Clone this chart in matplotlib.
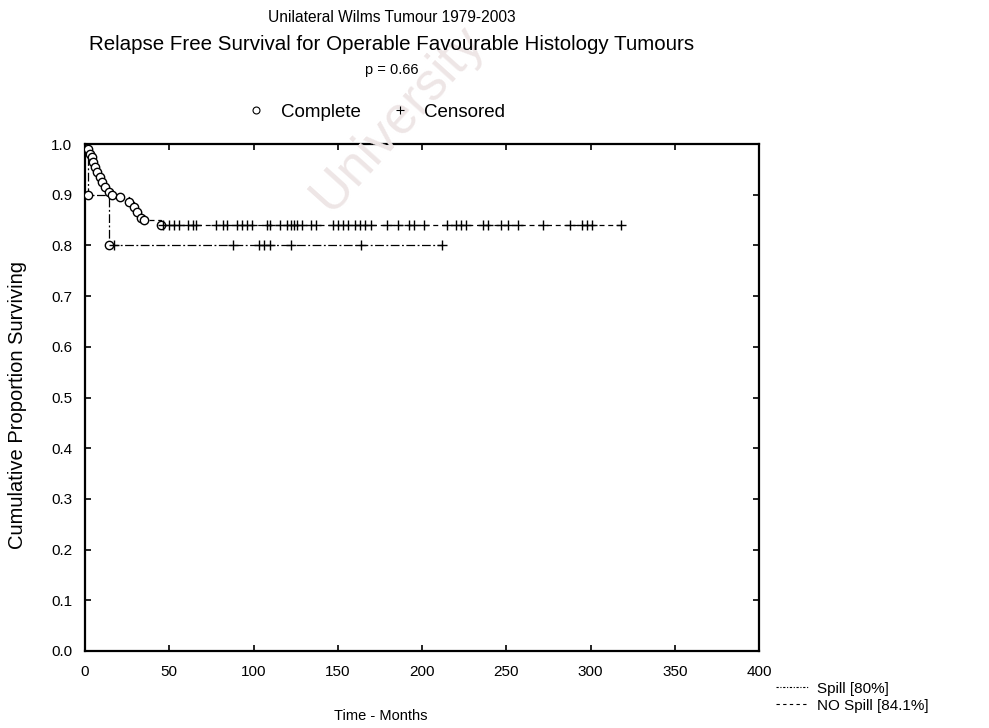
import matplotlib
matplotlib.use("Agg")
import matplotlib.pyplot as plt
from matplotlib.lines import Line2D

plt.rcParams['font.family'] = ['Liberation Sans', 'DejaVu Sans']

# ---- data ----
nospill_event_times = [2, 3, 4, 5, 6, 7, 9, 10, 12, 14, 16, 21, 26, 29, 31, 33, 35, 45]
nospill_event_surv = [0.99, 0.98, 0.975, 0.965, 0.955, 0.945, 0.935, 0.925, 0.915,
                      0.905, 0.90, 0.895, 0.885, 0.875, 0.865, 0.855, 0.85, 0.841]
nospill_censor_times = [46, 50, 53, 56, 61, 64, 66, 78, 82, 84, 90, 93, 96, 99, 108, 110,
                        116, 120, 122, 124, 126, 129, 134, 137, 147, 150, 153, 156, 160,
                        163, 166, 170, 179, 186, 192, 195, 201, 215, 220, 223, 226, 236,
                        239, 247, 251, 257, 272, 288, 295, 298, 301, 318]

spill_event_times = [2, 14]
spill_event_surv = [0.90, 0.80]
spill_censor_times = [17, 88, 103, 106, 110, 122, 164, 212]

x_ticks = [0, 50, 100, 150, 200, 250, 300, 350, 400]
y_ticks = [0.0, 0.1, 0.2, 0.3, 0.4, 0.5, 0.6, 0.7, 0.8, 0.9, 1.0]

title_lines = ["Unilateral Wilms Tumour 1979-2003",
               "Relapse Free Survival for Operable Favourable Histology Tumours",
               "p = 0.66"]
labels = ["Spill [80%]", "NO Spill [84.1%]"]


def level_at(t, times, surv):
    lv = 1.0
    for et, s in zip(times, surv):
        if et <= t:
            lv = s
    return lv


W, H = 989, 728
fig = plt.figure(figsize=(W / 100, H / 100), dpi=100)
ax = fig.add_axes([85 / W, 1 - 651 / H, (759 - 85) / W, (651 - 144) / H])

# watermark
fig.text(398 / W, 1 - 118 / H, "University", rotation=48, fontsize=38,
         color='#eee6e6', ha='center', va='center', zorder=0)

def draw_group(etimes, esurv, ctimes, ls):
    end = max(ctimes + etimes)
    xs = [0] + list(etimes) + [end]
    ys = [1.0] + list(esurv) + [esurv[-1]]
    ax.step(xs, ys, where='post', color='black', lw=0.9, linestyle=ls, zorder=2)
    ax.plot(etimes, esurv, linestyle='none', marker='o', markersize=6,
            markerfacecolor='white', markeredgecolor='black', markeredgewidth=1.0, zorder=3)
    cy = [level_at(t, etimes, esurv) for t in ctimes]
    ax.plot(ctimes, cy, linestyle='none', marker='+', markersize=7,
            color='black', markeredgewidth=1.0, zorder=3)

spill_ls = (0, (7, 2, 1.5, 2))
nospill_ls = (0, (4, 3))
draw_group(nospill_event_times, nospill_event_surv, nospill_censor_times, nospill_ls)
draw_group(spill_event_times, spill_event_surv, spill_censor_times, spill_ls)

ax.set_xlim(0, 400)
ax.set_ylim(0, 1.0)
ax.set_xticks(x_ticks)
ax.set_xticklabels([str(v) for v in x_ticks])
ax.set_yticks(y_ticks)
ax.set_yticklabels([f"{v:.1f}" for v in y_ticks])
ax.tick_params(direction='in', length=4, width=1.2, top=True, right=True,
               labelsize=11)
ax.tick_params(axis='x', pad=10)
ax.tick_params(axis='y', pad=9)
for s in ax.spines.values():
    s.set_linewidth(1.6)

fig.text(18 / W, 1 - 405 / H, "Cumulative Proportion Surviving", rotation=90,
         ha='center', va='center', fontsize=14.5)
fig.text(381 / W, 1 - 716 / H, "Time - Months", ha='center', va='center', fontsize=10.5)

title_y = [18, 45, 70]
title_sizes = [11.2, 14.8, 10.5]
for line, yy, fs in zip(title_lines, title_y, title_sizes):
    fig.text(392 / W, 1 - yy / H, line, ha='center', va='center', fontsize=fs)

# top marker legend
h1 = Line2D([], [], linestyle='none', marker='o', markersize=5, markerfacecolor='white',
            markeredgecolor='black', markeredgewidth=0.8)
h2 = Line2D([], [], linestyle='none', marker='+', markersize=6, color='black',
            markeredgewidth=0.8)
fig.legend([h1, h2], ["Complete", "Censored"], ncol=2, frameon=False,
           loc='center', bbox_to_anchor=(376 / W, 1 - 112 / H), fontsize=13.5,
           handlelength=1.0, columnspacing=1.6, handletextpad=0.8)

# bottom-right series legend
l1 = Line2D([], [], color='black', lw=0.8, linestyle=(0, (2, 1.5, 1, 1.5)))
l2 = Line2D([], [], color='black', lw=0.8, linestyle=(0, (3, 3)))
fig.legend([l1, l2], labels, frameon=False, loc='upper left',
           bbox_to_anchor=(762 / W, 1 - 668 / H), fontsize=11,
           handlelength=2.2, handletextpad=0.5, labelspacing=0.2)

fig.savefig("out.png", dpi=100)
